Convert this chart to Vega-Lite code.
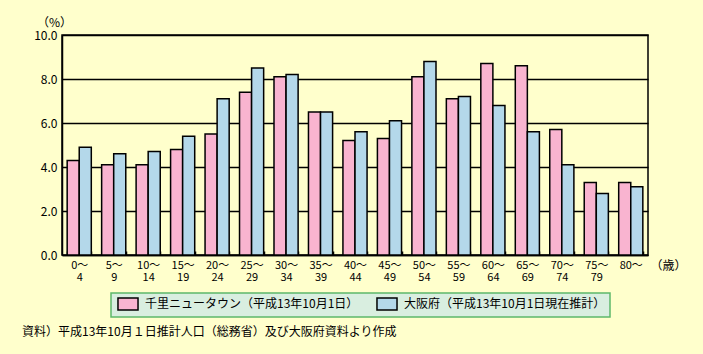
{
  "$schema": "https://vega.github.io/schema/vega-lite/v6.json",
  "width": 586,
  "height": 220,
  "autosize": {"type": "none"},
  "padding": {"left": 62, "top": 35, "right": 55, "bottom": 99},
  "background": "#FFFFCC",
  "title": {
    "text": "資料）平成13年10月１日推計人口（総務省）及び大阪府資料より作成",
    "orient": "bottom",
    "anchor": "start",
    "frame": "group",
    "offset": 9,
    "dx": -40,
    "font": "Noto Sans CJK JP",
    "fontSize": 12,
    "fontWeight": "normal",
    "color": "#000000"
  },
  "data": {
    "values": [
      {"age": "0～4", "series": "千里ニュータウン（平成13年10月1日）", "value": 4.3},
      {"age": "0～4", "series": "大阪府（平成13年10月1日現在推計）", "value": 4.9},
      {"age": "5～9", "series": "千里ニュータウン（平成13年10月1日）", "value": 4.1},
      {"age": "5～9", "series": "大阪府（平成13年10月1日現在推計）", "value": 4.6},
      {"age": "10～14", "series": "千里ニュータウン（平成13年10月1日）", "value": 4.1},
      {"age": "10～14", "series": "大阪府（平成13年10月1日現在推計）", "value": 4.7},
      {"age": "15～19", "series": "千里ニュータウン（平成13年10月1日）", "value": 4.8},
      {"age": "15～19", "series": "大阪府（平成13年10月1日現在推計）", "value": 5.4},
      {"age": "20～24", "series": "千里ニュータウン（平成13年10月1日）", "value": 5.5},
      {"age": "20～24", "series": "大阪府（平成13年10月1日現在推計）", "value": 7.1},
      {"age": "25～29", "series": "千里ニュータウン（平成13年10月1日）", "value": 7.4},
      {"age": "25～29", "series": "大阪府（平成13年10月1日現在推計）", "value": 8.5},
      {"age": "30～34", "series": "千里ニュータウン（平成13年10月1日）", "value": 8.1},
      {"age": "30～34", "series": "大阪府（平成13年10月1日現在推計）", "value": 8.2},
      {"age": "35～39", "series": "千里ニュータウン（平成13年10月1日）", "value": 6.5},
      {"age": "35～39", "series": "大阪府（平成13年10月1日現在推計）", "value": 6.5},
      {"age": "40～44", "series": "千里ニュータウン（平成13年10月1日）", "value": 5.2},
      {"age": "40～44", "series": "大阪府（平成13年10月1日現在推計）", "value": 5.6},
      {"age": "45～49", "series": "千里ニュータウン（平成13年10月1日）", "value": 5.3},
      {"age": "45～49", "series": "大阪府（平成13年10月1日現在推計）", "value": 6.1},
      {"age": "50～54", "series": "千里ニュータウン（平成13年10月1日）", "value": 8.1},
      {"age": "50～54", "series": "大阪府（平成13年10月1日現在推計）", "value": 8.8},
      {"age": "55～59", "series": "千里ニュータウン（平成13年10月1日）", "value": 7.1},
      {"age": "55～59", "series": "大阪府（平成13年10月1日現在推計）", "value": 7.2},
      {"age": "60～64", "series": "千里ニュータウン（平成13年10月1日）", "value": 8.7},
      {"age": "60～64", "series": "大阪府（平成13年10月1日現在推計）", "value": 6.8},
      {"age": "65～69", "series": "千里ニュータウン（平成13年10月1日）", "value": 8.6},
      {"age": "65～69", "series": "大阪府（平成13年10月1日現在推計）", "value": 5.6},
      {"age": "70～74", "series": "千里ニュータウン（平成13年10月1日）", "value": 5.7},
      {"age": "70～74", "series": "大阪府（平成13年10月1日現在推計）", "value": 4.1},
      {"age": "75～79", "series": "千里ニュータウン（平成13年10月1日）", "value": 3.3},
      {"age": "75～79", "series": "大阪府（平成13年10月1日現在推計）", "value": 2.8},
      {"age": "80～", "series": "千里ニュータウン（平成13年10月1日）", "value": 3.3},
      {"age": "80～", "series": "大阪府（平成13年10月1日現在推計）", "value": 3.1}
    ]
  },
  "mark": {"type": "bar", "stroke": "#000000", "strokeWidth": 1.5},
  "encoding": {
    "x": {
      "field": "age",
      "type": "nominal",
      "sort": null,
      "scale": {"paddingInner": 0.3, "paddingOuter": 0.15},
      "axis": {
        "title": "（歳）",
        "titleAngle": 0,
        "titleX": 606,
        "titleY": 10,
        "titleAlign": "center",
        "titleBaseline": "middle",
        "titleFont": "Noto Sans CJK JP",
        "titleFontSize": 12,
        "titleFontWeight": "normal",
        "titleColor": "#000000",
        "labelAngle": 0,
        "labelFont": "Noto Sans CJK JP",
        "labelFontSize": 11,
        "labelColor": "#000000",
        "labelLineHeight": 12,
        "labelPadding": 8,
        "labelExpr": "isValid(datum.value) ? [split(datum.value, '～')[0] + '～', split(datum.value, '～')[1]] : ''",
        "tickBand": "extent",
        "tickSize": -4,
        "tickColor": "#000000",
        "tickWidth": 1.5,
        "domainColor": "#000000",
        "domainWidth": 1.5
      }
    },
    "xOffset": {"field": "series", "type": "nominal", "sort": null, "scale": {"paddingInner": 0, "paddingOuter": 0}},
    "y": {
      "field": "value",
      "type": "quantitative",
      "scale": {"domain": [0, 10], "nice": false},
      "axis": {
        "title": "（%）",
        "titleAngle": 0,
        "titleX": -8,
        "titleY": -13,
        "titleAlign": "center",
        "titleBaseline": "middle",
        "titleFont": "Noto Sans CJK JP",
        "titleFontSize": 12,
        "titleFontWeight": "normal",
        "titleColor": "#000000",
        "values": [0, 2, 4, 6, 8, 10],
        "format": ".1f",
        "labelFont": "Noto Sans CJK JP",
        "labelFontSize": 12,
        "labelColor": "#000000",
        "labelPadding": 5,
        "ticks": false,
        "grid": true,
        "gridColor": "#000000",
        "gridWidth": 1.5,
        "domainColor": "#000000",
        "domainWidth": 1.5
      }
    },
    "fill": {
      "field": "series",
      "type": "nominal",
      "sort": null,
      "scale": {"range": ["#F9B4D0", "#B4D8EA"]},
      "legend": {
        "title": null,
        "orient": "none",
        "legendX": 49,
        "legendY": 258,
        "direction": "horizontal",
        "fillColor": "#D9EEE0",
        "strokeColor": "#5DB86A",
        "padding": 4,
        "columnPadding": 14,
        "symbolType": "M-0.67,-1H2.67V1H-0.67Z",
        "symbolSize": 144,
        "symbolStrokeColor": "#000000",
        "symbolStrokeWidth": 1.5,
        "symbolOpacity": 1,
        "labelOffset": 16,
        "labelFont": "Noto Sans CJK JP",
        "labelFontSize": 12,
        "labelColor": "#000000",
        "labelLimit": 400,
        "encode": {"legend": {"update": {"strokeWidth": {"value": 1.5}}}}
      }
    }
  },
  "config": {
    "view": {"stroke": "#000000", "strokeWidth": 1.5, "fill": "#FFFFCC"}
  }
}
